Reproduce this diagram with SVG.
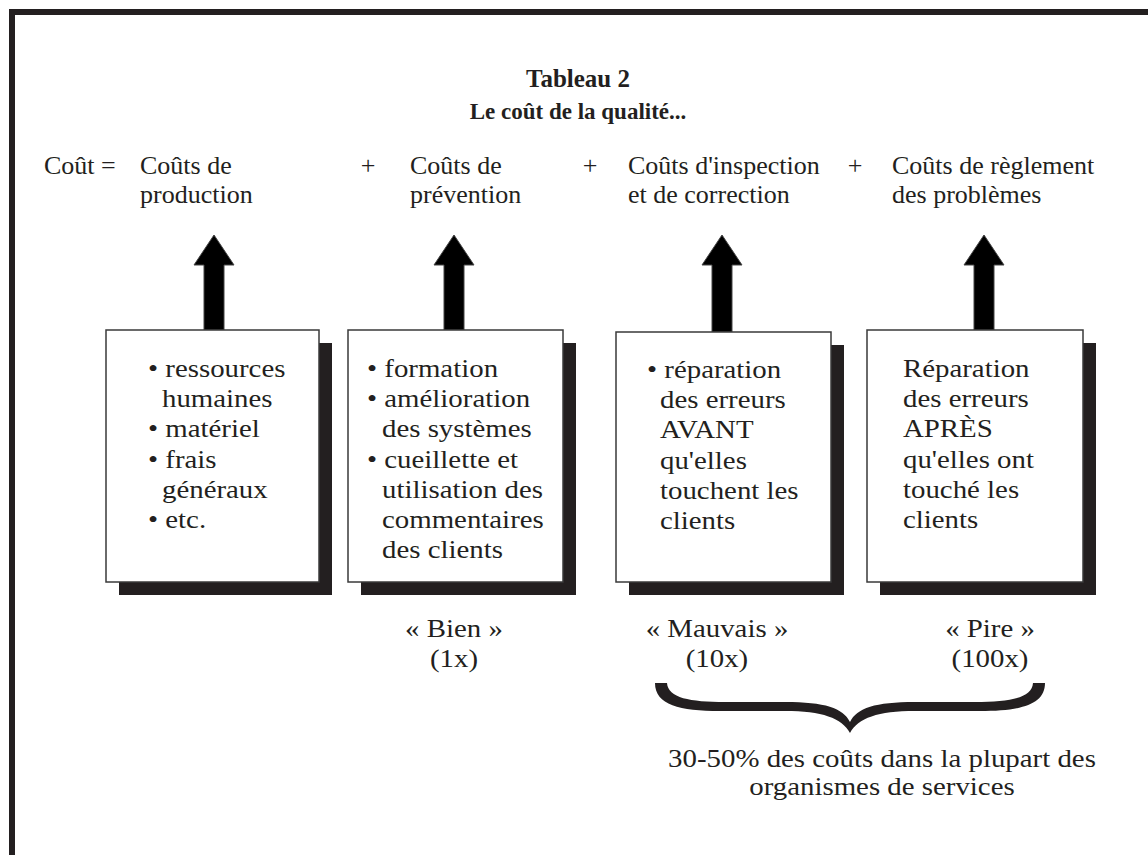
<svg xmlns="http://www.w3.org/2000/svg" width="1148" height="855" viewBox="0 0 1148 855">
<style>
text{font-family:"Liberation Serif","Times New Roman",serif;fill:#231f20;font-size:26px}
.b{font-weight:bold}
.m{text-anchor:middle}
.box{fill:#fff;stroke:#3a3a3a;stroke-width:1.5}
.sh{fill:#231f20}
.arr{fill:#000;stroke:#444;stroke-width:1}
</style>
<rect width="1148" height="855" fill="#fff"/>
<rect x="12" y="12" width="1200" height="900" fill="none" stroke="#231f20" stroke-width="6"/>
<g id="title">
<text class="b m" x="578" y="87" style="font-size:25px">Tableau 2</text>
<text class="b m" x="578" y="119" style="font-size:23px">Le coût de la qualité...</text>
</g>
<g id="equation">
<text x="44" y="174">Coût =</text>
<text class="m" x="368" y="174">+</text>
<text class="m" x="590" y="174">+</text>
<text class="m" x="855" y="174">+</text>
</g>
<g id="head1"><text x="140" y="174">Coûts de</text><text x="140" y="203">production</text></g>
<g id="head2"><text x="410" y="174">Coûts de</text><text x="410" y="203">prévention</text></g>
<g id="head3"><text x="628" y="174">Coûts d'inspection</text><text x="628" y="203">et de correction</text></g>
<g id="head4"><text x="892" y="174">Coûts de règlement</text><text x="892" y="203">des problèmes</text></g>
<g id="connectors">
<polygon class="arr" points="214,235 234,265 224,265 224,330 204,330 204,265 194,265"/>
<polygon class="arr" points="454,235 474,265 464,265 464,330 444,330 444,265 434,265"/>
<polygon class="arr" points="722,235 742,265 732,265 732,332 712,332 712,265 702,265"/>
<polygon class="arr" points="984,235 1004,265 994,265 994,330 974,330 974,265 964,265"/>
</g>
<g id="box1">
<rect class="sh" x="119" y="343" width="213" height="252"/>
<rect class="box" x="106" y="330" width="213" height="252"/>
<g transform="scale(1.11,1)">
<text x="133.33" y="377">• ressources</text>
<text x="145.95" y="407.2">humaines</text>
<text x="133.33" y="437.4">• matériel</text>
<text x="133.33" y="467.6">• frais</text>
<text x="145.95" y="497.8">généraux</text>
<text x="133.33" y="528">• etc.</text>
</g>
</g>
<g id="box2">
<rect class="sh" x="361" y="343" width="215" height="252"/>
<rect class="box" x="348" y="330" width="215" height="252"/>
<g transform="scale(1.11,1)">
<text x="330.63" y="377">• formation</text>
<text x="330.63" y="407.2">• amélioration</text>
<text x="344.14" y="437.4">des systèmes</text>
<text x="330.63" y="467.6">• cueillette et</text>
<text x="344.14" y="497.8">utilisation des</text>
<text x="344.14" y="528">commentaires</text>
<text x="344.14" y="558.2">des clients</text>
</g>
</g>
<g id="box3">
<rect class="sh" x="629" y="345" width="215" height="250"/>
<rect class="box" x="616" y="332" width="215" height="250"/>
<g transform="scale(1.11,1)">
<text x="582.88" y="378">• réparation</text>
<text x="594.59" y="408.2">des erreurs</text>
<text x="594.59" y="438.4">AVANT</text>
<text x="594.59" y="468.6">qu'elles</text>
<text x="594.59" y="498.8">touchent les</text>
<text x="594.59" y="529">clients</text>
</g>
</g>
<g id="box4">
<rect class="sh" x="880" y="343" width="216" height="252"/>
<rect class="box" x="867" y="330" width="216" height="252"/>
<g transform="scale(1.11,1)">
<text x="813.51" y="377">Réparation</text>
<text x="813.51" y="407.2">des erreurs</text>
<text x="813.51" y="437.4">APRÈS</text>
<text x="813.51" y="467.6">qu'elles ont</text>
<text x="813.51" y="497.8">touché les</text>
<text x="813.51" y="528">clients</text>
</g>
</g>
<g id="labels" transform="scale(1.11,1)">
<text class="m" x="409.01" y="637">« Bien »</text>
<text class="m" x="409.01" y="667">(1x)</text>
<text class="m" x="645.95" y="637">« Mauvais »</text>
<text class="m" x="645.95" y="667">(10x)</text>
<text class="m" x="891.89" y="637">« Pire »</text>
<text class="m" x="891.89" y="667">(100x)</text>
</g>
<g id="brace">
<path fill="#231f20" d="M655,683 L667,683 C668,698 690,702 725,702 L785,702 C825,702 843,708 850,722 C857,708 875,702 915,702 L975,702 C1010,702 1032,698 1033,683 L1045,683 C1045,705 1020,711 980,711 L915,711 C878,711 858,718 850,733 C842,718 822,711 785,711 L720,711 C680,711 655,705 655,683 Z"/>
</g>
<g id="note" transform="scale(1.11,1)">
<text class="m" x="794.59" y="767">30-50% des coûts dans la plupart des</text>
<text class="m" x="794.59" y="795">organismes de services</text>
</g>
</svg>
